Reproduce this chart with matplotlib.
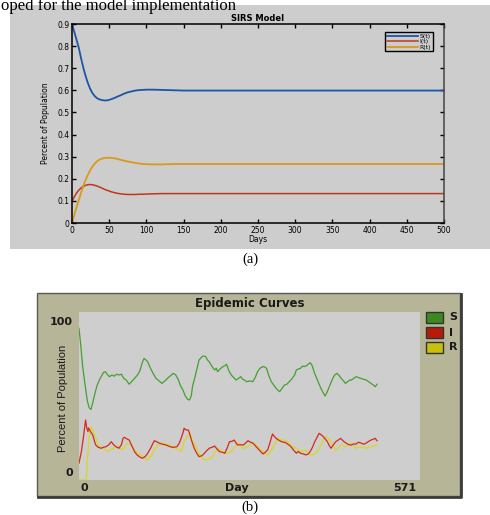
import numpy as np
import matplotlib
matplotlib.use("Agg")
import matplotlib.pyplot as plt
from matplotlib.patches import Rectangle

W, H = 490, 515

# ---- (a) SIRS model ----
sirs_days = [0, 3, 6, 9, 12, 15, 18, 21, 24, 27, 30, 33, 36, 40, 44, 48, 52, 56, 60,
             65, 70, 75, 80, 85, 90, 95, 100, 110, 120, 130, 140, 150, 175, 200,
             250, 300, 350, 400, 450, 500]
sirs_s = [0.900, 0.865, 0.830, 0.794, 0.748, 0.705, 0.668, 0.636, 0.610, 0.590, 0.576,
          0.566, 0.560, 0.556, 0.554, 0.555, 0.559, 0.564, 0.570, 0.577, 0.585, 0.591,
          0.595, 0.599, 0.601, 0.602, 0.603, 0.603, 0.602, 0.601, 0.600, 0.599, 0.599,
          0.599, 0.599, 0.599, 0.599, 0.599, 0.599, 0.599]
sirs_i = [0.098, 0.118, 0.135, 0.148, 0.158, 0.165, 0.170, 0.173, 0.174, 0.173, 0.171,
          0.168, 0.164, 0.158, 0.152, 0.147, 0.142, 0.138, 0.135, 0.132, 0.130, 0.129,
          0.129, 0.129, 0.130, 0.130, 0.131, 0.132, 0.133, 0.133, 0.133, 0.133, 0.133,
          0.133, 0.133, 0.133, 0.133, 0.133, 0.133, 0.133]
sirs_r = [0.000, 0.035, 0.070, 0.102, 0.135, 0.165, 0.193, 0.215, 0.236, 0.253, 0.266,
          0.277, 0.285, 0.291, 0.294, 0.295, 0.295, 0.293, 0.291, 0.286, 0.282, 0.278,
          0.275, 0.272, 0.269, 0.267, 0.266, 0.265, 0.265, 0.266, 0.267, 0.267, 0.267,
          0.267, 0.267, 0.267, 0.267, 0.267, 0.267, 0.267]
sirs_labels = ["S(t)", "I(t)", "R(t)"]

# ---- (b) NetLogo epidemic curves ----
s_days = [0, 3, 6, 10, 14, 17, 20, 23, 27, 30, 34, 38, 41, 44, 47, 51, 55, 59, 63, 67,
          71, 75, 79, 84, 88, 93, 98, 102, 106, 109, 112, 115, 119, 124, 129, 134, 139,
          144, 148, 153, 158, 162, 166, 170, 174, 178, 182, 185, 188, 190, 194, 198,
          201, 205, 208, 212, 215, 218, 222, 227, 230, 232, 236, 241, 244, 247, 251,
          255, 259, 263, 267, 271, 274, 277, 281, 286, 291, 295, 299, 303, 308, 311,
          314, 318, 322, 326, 330, 333, 336, 340, 344, 348, 352, 356, 361, 364, 367,
          371, 374, 377, 381, 384, 387, 389, 391, 394, 397, 401, 405, 408, 412, 415,
          419, 422, 425, 428, 432, 436, 439, 443, 446, 450, 453, 456, 460, 464, 468,
          472, 476, 481, 485, 489, 493, 496, 499]
s_vals = [90.3, 80, 68, 57, 47, 43, 42, 46, 52, 56, 59.5, 62, 64, 64.5, 63, 61.5, 62.5,
          61.8, 63, 62.5, 63, 60.5, 59.5, 57, 58.5, 60.5, 62.5, 65, 70, 72.4, 71.5, 70.4,
          67, 63.5, 60.5, 59, 57.5, 59, 60.5, 62, 63.5, 62.5, 60, 56, 53.6, 50, 48, 47.6,
          50, 55.5, 61, 67, 71.4, 73, 73.8, 73.5, 71.5, 70.4, 68, 65.5, 66.5, 64.5, 66,
          67.5, 68, 68.9, 65, 62.5, 61, 59.5, 60.5, 61.5, 60, 59.5, 58.5, 59, 58.5, 61,
          64.5, 66.5, 67.5, 67.3, 66.5, 62, 58.5, 56.5, 54.6, 53.5, 52.6, 54.5, 56.5, 57,
          58.5, 60, 62.5, 65.5, 66, 66.5, 67.8, 67.5, 68, 69, 69.8, 69, 67.5, 64, 61.5,
          58, 54.6, 52.5, 50, 52, 55.5, 58, 60.5, 62.5, 63.5, 62, 60.5, 59, 57.5, 58.5,
          59.5, 59.5, 60.5, 61.5, 61, 60.5, 60, 59.5, 58.5, 57.5, 56.5, 55.5, 57]

i_days = [0, 4, 8, 11, 13, 15, 16, 19, 23, 26, 28, 32, 37, 41, 45, 50, 54, 58, 62, 67,
          71, 74, 76, 80, 84, 89, 93, 97, 101, 106, 111, 115, 120, 124, 126, 130, 134,
          140, 146, 151, 157, 164, 168, 171, 174, 176, 179, 183, 185, 189, 193, 197,
          201, 206, 210, 214, 218, 223, 227, 231, 235, 240, 244, 248, 252, 256, 260,
          263, 266, 270, 275, 279, 283, 287, 291, 295, 299, 304, 308, 312, 316, 320,
          324, 327, 330, 334, 339, 343, 347, 351, 355, 360, 364, 367, 371, 376, 380,
          384, 387, 391, 394, 398, 402, 405, 408, 412, 416, 419, 422, 426, 430, 434,
          438, 443, 447, 452, 456, 460, 464, 468, 472, 477, 481, 485, 489, 493, 496, 499]
i_vals = [10, 17, 27, 35.7, 31, 28.8, 31, 29, 26.8, 23, 20.8, 19.5, 18.9, 19.5, 19.8,
          21, 22.8, 21, 19.8, 18.9, 21, 25, 25.4, 24.5, 23.8, 20, 16.9, 15, 13.9, 12.9,
          14, 15.9, 19, 22, 23.4, 22.8, 22, 21.3, 20.8, 20, 19.4, 19.8, 22, 24.8, 28,
          30.8, 29.8, 29.8, 27.8, 23, 18.9, 16, 13.9, 14.5, 15.9, 17.5, 18.9, 19.5, 20.2,
          18.5, 16.9, 16.5, 15.9, 19, 22.8, 23, 23.8, 22, 20.8, 21, 20.8, 22, 23.4, 22.5,
          22, 20.5, 18.9, 17, 15.5, 16.5, 18, 22.5, 27.4, 26, 24.8, 23.8, 22.8, 22.5, 22,
          21, 19.8, 17.5, 15.9, 17, 15.9, 15.5, 14.9, 15.5, 16.9, 19.5, 22.2, 25, 27.8,
          27, 26.2, 24.5, 22.8, 20.5, 18.9, 21, 22.8, 23.8, 24.8, 23, 22, 21, 20.8, 21.5,
          21.4, 22.5, 22, 21.3, 22, 23, 23.8, 24.3, 24.8, 23.4]

r_days = [0, 6, 12, 14, 17, 20, 22, 24, 28, 31, 35, 40, 44, 48, 52, 56, 61, 65, 69, 73,
          77, 81, 86, 90, 94, 98, 102, 106, 111, 115, 119, 123, 127, 132, 136, 140, 146,
          151, 157, 162, 167, 171, 174, 176, 180, 183, 186, 188, 192, 196, 200, 204,
          208, 212, 218, 224, 228, 232, 237, 241, 245, 249, 254, 258, 262, 266, 270,
          275, 279, 283, 287, 291, 295, 299, 304, 308, 312, 316, 320, 324, 329, 333,
          337, 341, 345, 349, 354, 358, 362, 366, 371, 376, 380, 384, 388, 392, 397,
          401, 405, 409, 413, 418, 422, 426, 430, 435, 439, 443, 447, 452, 456, 460,
          464, 468, 472, 477, 481, 485, 489, 494, 499]
r_vals = [0, 0, 0, 12, 25, 31.7, 30, 28.8, 25, 21.8, 20, 18.9, 18, 16.9, 17.8, 18.3,
          19.5, 19.8, 19, 17.9, 20, 22, 21, 19.8, 17.5, 15.9, 15, 14.3, 13, 11.9, 13.5,
          15.9, 18.5, 20.8, 21.5, 22, 21.3, 20.8, 19.8, 18.9, 17.8, 16.9, 20, 22.8, 25,
          26.8, 27.8, 24.8, 22, 19.8, 16.5, 13.9, 12.5, 11.9, 12.5, 13.9, 16.5, 18.9,
          17.5, 16.9, 16, 15.9, 16.8, 17.9, 20, 22, 20.5, 18.9, 19.5, 19.8, 21, 22, 21,
          19.8, 18.3, 16.9, 15.5, 14.9, 16.5, 18.9, 22, 24.8, 24, 23.8, 23.3, 22.8, 21,
          19.8, 19, 18.3, 16.9, 17.5, 17.9, 16, 14.9, 15.3, 15.9, 18, 20.8, 23.5, 25.8,
          24.5, 22.8, 20, 17.9, 19.5, 20.8, 20.5, 19.8, 21, 22, 20.5, 18.9, 19.5, 19.8,
          19.2, 18.9, 19.5, 19.8, 20.3, 20.8]
day_max = 571
epi_labels = ["S", "I", "R"]


def px(x0, y0, x1, y1):
    # pixel box (top-left origin) -> figure fraction
    return [x0 / W, 1 - y1 / H, (x1 - x0) / W, (y1 - y0) / H]


fig = plt.figure(figsize=(W / 100, H / 100), dpi=100)
fig.patch.set_facecolor("white")

bg = fig.add_axes([0, 0, 1, 1])
bg.set_xlim(0, W)
bg.set_ylim(H, 0)
bg.axis("off")

serif = "Liberation Serif"
bg.text(1, 9.5, "oped for the model implementation", fontsize=12, family=serif,
        va="baseline", ha="left")

# panel (a) background
bg.add_patch(Rectangle((10, 5), 480, 244, facecolor="#cdcdcd", edgecolor="none"))
bg.text(250, 259, "(a)", fontsize=10.5, family=serif, ha="center", va="center")

ax1 = fig.add_axes(px(72, 24, 444, 223))
ax1.set_facecolor("#cdcdcd")
ax1.plot(sirs_days, sirs_s, color="#1b55a6", lw=1.3, label=sirs_labels[0])
ax1.plot(sirs_days, sirs_i, color="#c0381a", lw=1.1, label=sirs_labels[1])
ax1.plot(sirs_days, sirs_r, color="#d99a1c", lw=1.3, label=sirs_labels[2])
ax1.set_xlim(0, 500)
ax1.set_ylim(0, 0.9)
ax1.set_xticks(np.arange(0, 501, 50))
ax1.set_yticks(np.arange(0, 0.91, 0.1))
ax1.set_yticklabels(["0"] + ["%.1f" % v for v in np.arange(0.1, 0.91, 0.1)])
ax1.tick_params(direction="in", length=3, width=1, labelsize=5.5, pad=2,
                top=True, right=True)
for sp in ax1.spines.values():
    sp.set_linewidth(1.1)
ax1.spines["right"].set_color("#444444")
ax1.set_title("SIRS Model", fontsize=6, fontweight="bold", pad=2)
ax1.set_xlabel("Days", fontsize=5.5, labelpad=0)
ax1.set_ylabel("Percent of Population", fontsize=5.5, labelpad=5)
leg = ax1.legend(loc="upper right", bbox_to_anchor=(436 / W, 1 - 29 / H),
                 bbox_transform=fig.transFigure, fontsize=4.5, handlelength=5,
                 handletextpad=0.3, labelspacing=0.0, borderpad=0.25,
                 fancybox=False, framealpha=1, facecolor="#cdcdcd",
                 edgecolor="black")
leg.get_frame().set_linewidth(1.0)

# panel (b) frame
bg.add_patch(Rectangle((37, 293), 423, 203, facecolor="#b6b597",
                       edgecolor="#5a5a5a", lw=1.0))
bg.plot([460.5, 460.5, 38], [294, 496.5, 496.5], color="#3c3c3c", lw=2)
bg.text(250, 303, "Epidemic Curves", fontsize=8.5, fontweight="bold",
        ha="center", va="center", color="#1a1a1a")
bg.text(250, 507, "(b)", fontsize=10.5, family=serif, ha="center", va="center")

ax2 = fig.add_axes(px(79, 312, 420, 480))
ax2.set_facecolor("#cecece")
ax2.plot(s_days, s_vals, color="#44a030", lw=0.9)
ax2.plot(r_days, r_vals, color="#d8d81e", lw=0.9)
ax2.plot(i_days, i_vals, color="#d42a18", lw=0.9)
ax2.set_xlim(0, day_max)
ax2.set_ylim(0, 100)
ax2.set_xticks([])
ax2.set_yticks([])
for sp in ax2.spines.values():
    sp.set_visible(False)

lab = dict(fontsize=8, fontweight="bold", color="#1a1a1a")
bg.text(73, 322, "100", ha="right", va="center", **lab)
bg.text(73, 473, "0", ha="right", va="center", **lab)
bg.text(80, 488, "0", ha="left", va="center", **lab)
bg.text(237, 488, "Day", ha="center", va="center", **lab)
bg.text(416, 488, str(day_max), ha="right", va="center", **lab)
bg.text(63, 398, "Percent of Population", rotation=90, fontsize=8,
        family="Liberation Sans", ha="center", va="center", color="#1a1a1a")

sw_colors = ["#3a8a20", "#b81a0a", "#c8c00a"]
for k, (name, c) in enumerate(zip(epi_labels, sw_colors)):
    y = 312 + 15 * k
    bg.add_patch(Rectangle((426, y), 17, 10.5, facecolor=c, edgecolor="#333333", lw=1))
    bg.text(449, y + 5.5, name, ha="left", va="center", **lab)

fig.savefig("out.png", dpi=100)
